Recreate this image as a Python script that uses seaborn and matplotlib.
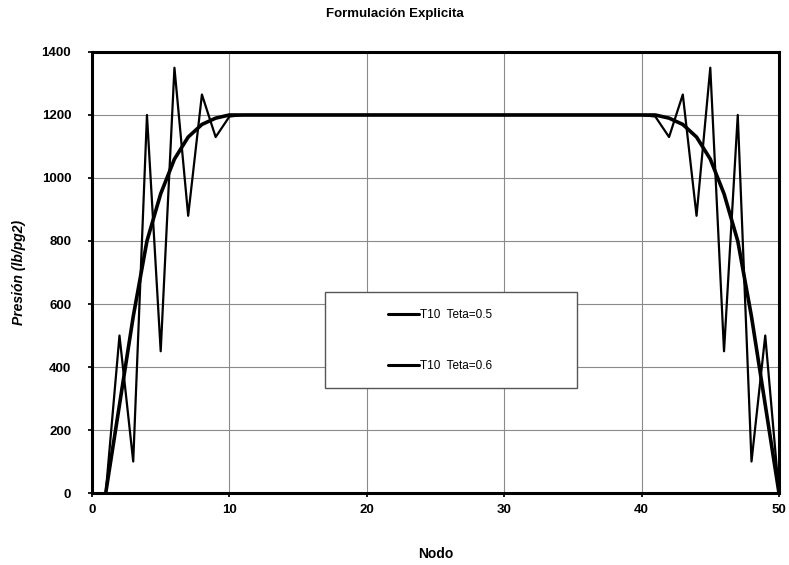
import numpy as np
import pandas as pd
import matplotlib
matplotlib.use("Agg")
import matplotlib.pyplot as plt
from matplotlib.patches import Rectangle
import seaborn as sns

# nodes 1..50, profiles are symmetric about the middle
nodo = list(range(1, 51))

# left half (nodes 1..25), mirrored for 26..50
teta05_half = [0, 500, 100, 1200, 450, 1350, 880, 1265, 1130, 1195] + [1200] * 15
teta06_half = [0, 280, 560, 800, 950, 1060, 1130, 1170, 1190, 1200] + [1200] * 15

teta05 = teta05_half + teta05_half[::-1]
teta06 = teta06_half + teta06_half[::-1]

labels = ["T10  Teta=0.5", "T10  Teta=0.6"]

df = pd.DataFrame({
    "Nodo": nodo * 2,
    "Presion": teta05 + teta06,
    "Serie": [labels[0]] * 50 + [labels[1]] * 50,
})

sns.set_theme(style="white")
plt.rcParams["font.family"] = ["Liberation Sans", "DejaVu Sans"]
plt.rcParams["text.color"] = "black"
plt.rcParams["axes.labelcolor"] = "black"
plt.rcParams["xtick.color"] = "black"
plt.rcParams["ytick.color"] = "black"

fig = plt.figure(figsize=(7.89, 5.65), dpi=100)
ax = fig.add_axes([0.1166, 0.1274, 0.8707, 0.7806])

sns.lineplot(data=df, x="Nodo", y="Presion", hue="Serie", size="Serie",
             sizes={labels[0]: 1.6, labels[1]: 2.6},
             palette={labels[0]: "black", labels[1]: "black"},
             ax=ax, legend=True)

ax.set_xlim(0, 50)
ax.set_ylim(0, 1400)
ax.set_xticks(range(0, 51, 10))
ax.set_yticks(range(0, 1401, 200))
ax.grid(True, color="#8a8a8a", linewidth=0.8)
ax.set_axisbelow(True)
for s in ax.spines.values():
    s.set_color("black")
    s.set_linewidth(2.2)

ax.tick_params(axis="both", labelsize=9.5, length=3, direction="out", bottom=True, left=True)
ax.tick_params(axis="y", pad=12)
ax.tick_params(axis="x", pad=5)
for t in ax.get_xticklabels() + ax.get_yticklabels():
    t.set_fontweight("bold")

ax.set_xlabel("Nodo", fontsize=10, fontweight="bold", labelpad=22)
ax.set_ylabel("Presión (lb/pg2)", fontsize=10, fontweight="bold", style="italic", labelpad=11)
fig.suptitle("Formulación Explicita", fontsize=9.5, fontweight="bold", y=0.985)

# legend box
ax.add_patch(Rectangle((0.339, 0.238), 0.367, 0.218, transform=ax.transAxes,
                       facecolor="white", edgecolor="#555555", linewidth=1.0, zorder=5))
handles, lbls = ax.get_legend_handles_labels()
leg = ax.legend(handles[:2], lbls[:2], loc="center",
                bbox_to_anchor=(0.507, 0.345), frameon=False, fontsize=8.5,
                handlelength=2.6, handletextpad=0.1, labelspacing=3.3)
leg.set_zorder(6)
for h in leg.get_lines():
    h.set_linewidth(2.2)

fig.savefig("out.png", dpi=100)
